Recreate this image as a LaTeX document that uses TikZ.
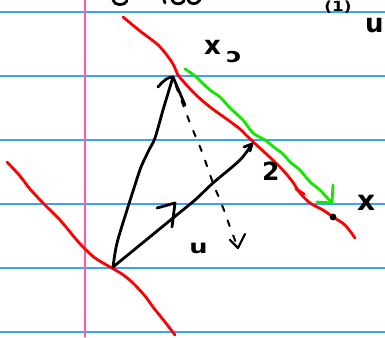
\documentclass[tikz,border=0pt]{standalone}
\usepackage{fontspec}
\setmainfont{DejaVu Sans}
\definecolor{ruleblue}{RGB}{60,160,255}
\definecolor{marginpink}{RGB}{255,90,170}
\definecolor{redpen}{RGB}{255,0,0}
\definecolor{greenpen}{RGB}{20,230,0}
\begin{document}
\begin{tikzpicture}[x=1pt,y=-1pt,line cap=round,line join=round,
  ruleline/.style={ruleblue,line width=1.3pt},
  marginline/.style={marginpink,line width=1.3pt},
  redstroke/.style={redpen,line width=2.8pt},
  greenstroke/.style={greenpen,line width=2.8pt},
  ink/.style={black,line width=2.8pt},
  dashink/.style={black,line width=2pt,dash pattern=on 6pt off 10pt},
  hand/.style={inner sep=0pt,text=black}]
\useasboundingbox (0,0) rectangle (385,337);
\clip (0,0) rectangle (385,337);
\fill[white] (0,0) rectangle (385,337);
% ruled paper
\foreach \yy in {12,76,140,204,268,332} \draw[ruleline] (0,\yy) -- (385,\yy);
\draw[marginline] (85,0) -- (85,337);
% top fragments of cut-off writing
\draw[ink] (113,0) .. controls (114,6) and (125,6) .. (127,1);
\draw[ink] (164,0) -- (165,3);
\draw[ink] (172,0) .. controls (174,5) and (181,5) .. (184,1);
\draw[ink] (188,0) .. controls (190,5) and (197,5) .. (200,0);
\node[hand,font=\bfseries\fontsize{14}{14}\selectfont,anchor=base,xscale=1.2] (eq) at (338,12) {(1)};
\node[hand,font=\bfseries\fontsize{26}{26}\selectfont,anchor=base west] (ulab) at (365,33) {u};
% red lines
\draw[redstroke] plot[smooth,tension=0.5] coordinates {(123,17) (140,31) (157,44) (166,54) (173,64) (178,75) (183,81) (195,94) (210,107) (228,120) (240,129) (247,136) (262,150) (280,167) (292,181) (300,193) (310,203) (323,210) (333,217) (345,225) (355,238)};
\draw[redstroke] (296,189) -- (304,194);
\draw[redstroke] plot[smooth,tension=0.5] coordinates {(7,162) (20,176) (30,189) (43,203) (60,220) (75,238) (83,247) (95,258) (110,267) (122,274) (133,283) (145,296) (153,307) (165,322) (175,335)};
% green arrow
\coordinate (g0) at (185,69);
\coordinate (g1) at (332,203);
\draw[greenstroke] plot[smooth,tension=0.5] coordinates {(g0) (195,76) (210,90) (220,97) (230,108) (243,120) (253,133) (265,140) (275,148) (283,154) (290,162) (300,170) (310,182) (320,190) (g1)};
\draw[greenstroke] (333,185) -- (g1) -- (317,202);
% black vectors
\coordinate (O) at (113,267);
\coordinate (A) at (173,77);
\coordinate (B) at (252,144);
\coordinate (C) at (238,248);
\draw[ink] plot[smooth,tension=0.5] coordinates {(O) (117,243) (127,210) (135,185) (141,167) (149,150) (155,138) (163,110) (A)};
\draw[ink] (158,87) .. controls (164,80) and (168,77) .. (A) -- (185,105);
\draw[ink] plot[smooth,tension=0.5] coordinates {(O) (140,245) (173,218) (195,200) (213,183) (240,160) (B)};
\draw[ink] (244,147) -- (B) -- (250,151);
\draw[ink] (157,208) -- (175,203) -- (172,227);
% dashed projection
\draw[dashink] plot[smooth,tension=0.5] coordinates {(176,86) (190,123) (202,152) (213,183) (222,205) (230,227) (C)};
\draw[ink,line width=2.2pt] (230,240) -- (C) -- (245,234);
% point x
\fill[black] (333,217) circle (3.4pt);
% labels
\node[hand,font=\bfseries\fontsize{26}{26}\selectfont,anchor=base west] (x0) at (204,55) {x};
\node[hand,font=\bfseries\fontsize{20}{20}\selectfont,anchor=base west,xscale=1.3] (x0sub) at (226,63) {ↄ};
\node[hand,font=\bfseries\fontsize{25}{25}\selectfont,anchor=base west] (d) at (262,180) {2};
\node[hand,font=\bfseries\fontsize{19}{19}\selectfont,anchor=base west,xscale=1.35] (u) at (189,253) {u};
\node[hand,font=\bfseries\fontsize{28}{28}\selectfont,anchor=base west] (x) at (357,210) {x};
\end{tikzpicture}
\end{document}
